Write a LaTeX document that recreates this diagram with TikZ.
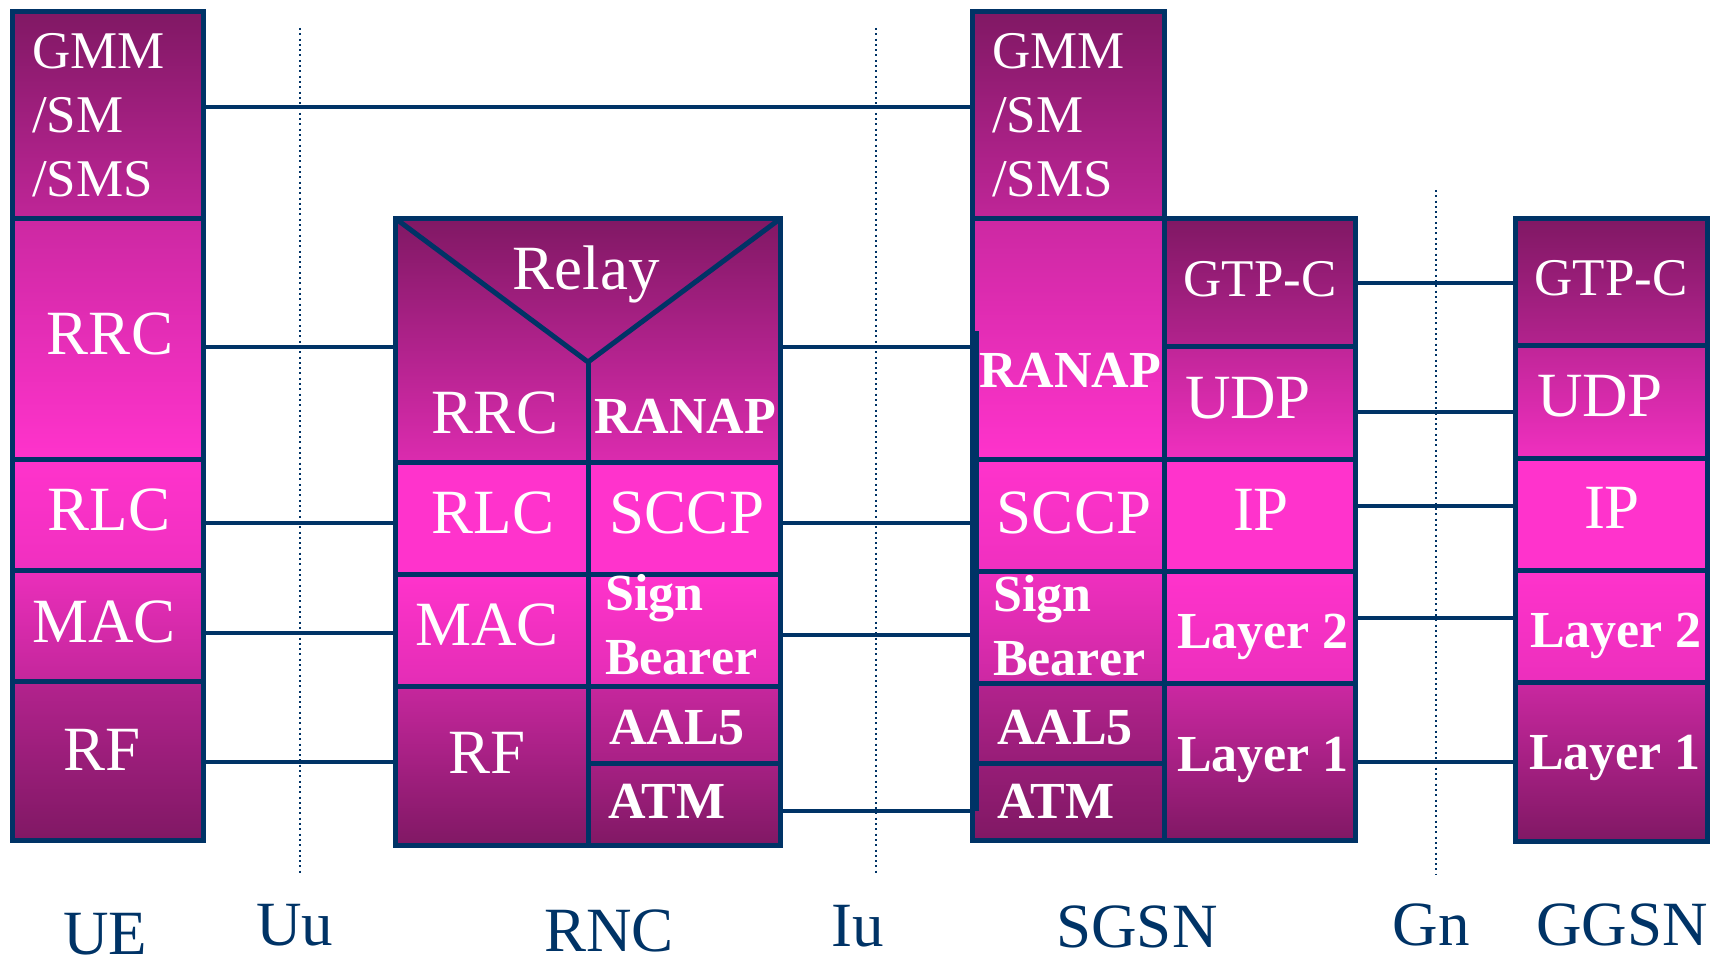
\documentclass[tikz,border=0pt]{standalone}
\usepackage{fontspec}
\setmainfont{Liberation Serif}
\usetikzlibrary{shadings}
\definecolor{navy}{RGB}{0,51,102}
\definecolor{dk}{RGB}{128,24,100}
\definecolor{br}{RGB}{255,51,204}
\newcommand\stackcell[4]{\shade[top color=br!#1!dk, bottom color=br!#2!dk] (#3) rectangle (#4);}
\tikzset{
  cell/.style={draw=navy, line width=5pt},
  link/.style={draw=navy, line width=3.5pt},
  iface/.style={draw=navy, line width=2.5pt, dash pattern=on 2pt off 3.3pt},
  txt/.style={text=white, font=\fontsize{63}{63}\selectfont, inner sep=0pt, anchor=base},
  stxt/.style={text=white, font=\fontsize{53}{53}\selectfont, inner sep=0pt, anchor=base},
  btxt/.style={text=white, font=\fontsize{52}{52}\selectfont\bfseries, inner sep=0pt, anchor=base},
  lbl/.style={text=navy, font=\fontsize{63}{63}\selectfont, inner sep=0pt, anchor=base},
}
\begin{document}
\begin{tikzpicture}[x=1pt,y=-1pt]
\useasboundingbox (0,0) rectangle (1721,965);
% ---------- UE ----------
\stackcell{0}{50}{12.5,11.5}{203.5,219}
\stackcell{60}{100}{12.5,219}{203.5,459}
\stackcell{100}{88}{12.5,459}{203.5,570}
\stackcell{84}{53}{12.5,570}{203.5,681}
\stackcell{40}{0}{12.5,681}{203.5,840.5}
\draw[cell] (12.5,11.5) rectangle (203.5,840.5);
\foreach \y in {219,459,570,681} \draw[cell] (12.5,\y) -- (203.5,\y);
% ---------- RNC ----------
\stackcell{0}{72}{395.5,218.5}{780.5,462}
\stackcell{100}{100}{395.5,462}{780.5,574}
\stackcell{100}{78}{395.5,574}{780.5,686}
\stackcell{55}{0}{395.5,686}{588,845.5}
\stackcell{55}{32}{588,686}{780.5,763}
\stackcell{30}{0}{588,763}{780.5,845.5}
\draw[cell] (395.5,218.5) rectangle (780.5,845.5);
\draw[cell] (395.5,218.5) -- (588,362) -- (780.5,218.5);
\draw[cell] (588,362) -- (588,845.5);
\foreach \y in {462,574,686} \draw[cell] (395.5,\y) -- (780.5,\y);
\draw[cell] (588,763) -- (780.5,763);
% ---------- SGSN ----------
\stackcell{0}{50}{972.5,11.5}{1164.5,218.5}
\stackcell{60}{100}{972.5,218.5}{1164.5,459.5}
\stackcell{100}{88}{972.5,459.5}{1164.5,571}
\stackcell{88}{60}{972.5,571}{1164.5,683}
\stackcell{40}{18}{972.5,683}{1164.5,763}
\stackcell{18}{0}{972.5,763}{1164.5,840.5}
\stackcell{0}{40}{1164.5,218.5}{1355.5,347}
\stackcell{50}{88}{1164.5,347}{1355.5,459.5}
\stackcell{100}{100}{1164.5,459.5}{1355.5,571}
\stackcell{100}{85}{1164.5,571}{1355.5,683}
\stackcell{60}{0}{1164.5,683}{1355.5,840.5}
\draw[cell] (972.5,11.5) rectangle (1164.5,840.5);
\draw[cell] (1164.5,218.5) rectangle (1355.5,840.5);
\foreach \y in {218.5,459.5,571,683,763} \draw[cell] (972.5,\y) -- (1164.5,\y);
\foreach \y in {347,459.5,571,683} \draw[cell] (1164.5,\y) -- (1355.5,\y);
\fill[navy] (970,331) rectangle (979,811);
% ---------- GGSN ----------
\stackcell{0}{40}{1515.5,218.5}{1707.5,346}
\stackcell{50}{88}{1515.5,346}{1707.5,458}
\stackcell{100}{100}{1515.5,458}{1707.5,570}
\stackcell{100}{85}{1515.5,570}{1707.5,682}
\stackcell{58}{0}{1515.5,682}{1707.5,841.5}
\draw[cell] (1515.5,218.5) rectangle (1707.5,841.5);
\foreach \y in {346,458,570,682} \draw[cell] (1515.5,\y) -- (1707.5,\y);
% ---------- links ----------
\draw[link] (206,107) -- (970,107);
\foreach \y in {347,523,633,762} \draw[link] (206,\y) -- (393,\y);
\foreach \y in {347,523,635,811} \draw[link] (783,\y) -- (975,\y);
\foreach \y in {283,412,506,618,762} \draw[link] (1358,\y) -- (1513,\y);
% ---------- interfaces ----------
\draw[iface] (300,28) -- (300,873);
\draw[iface] (876,28) -- (876,875);
\draw[iface] (1436,190) -- (1436,874);
% ---------- UE texts ----------
\node[stxt, anchor=base west] (ue1) at (32,69) {GMM};
\node[stxt, anchor=base west] (ue2) at (32,133) {/SM};
\node[stxt, anchor=base west] (ue3) at (32,197) {/SMS};
\node[txt] (uerrc) at (110,355) {RRC};
\node[txt] (uerlc) at (109,530) {RLC};
\node[txt] (uemac) at (104,642) {MAC};
\node[txt] (uerf) at (102,770) {RF};
% ---------- RNC texts ----------
\node[txt] (relay) at (586,290) {Relay};
\node[txt] (rnrrc) at (495,433) {RRC};
\node[btxt] (rnranap) at (685,433) {RANAP};
\node[txt] (rnrlc) at (493,533) {RLC};
\node[txt] (rnsccp) at (687,533) {SCCP};
\node[txt] (rnmac) at (487,645) {MAC};
\node[btxt, anchor=base west] (rnsign) at (605,610) {Sign};
\node[btxt, anchor=base west] (rnbear) at (605,674) {Bearer};
\node[txt] (rnrf) at (487,773) {RF};
\node[btxt] (rnaal) at (677,744) {AAL5};
\node[btxt, anchor=base west] (rnatm) at (608,818) {ATM};
% ---------- SGSN texts ----------
\node[stxt, anchor=base west] (sg1) at (992,69) {GMM};
\node[stxt, anchor=base west] (sg2) at (992,133) {/SM};
\node[stxt, anchor=base west] (sg3) at (992,197) {/SMS};
\node[stxt] (sggtp) at (1260,297) {GTP-C};
\node[btxt] (sgranap) at (1070,388) {RANAP};
\node[txt] (sgudp) at (1248,418) {UDP};
\node[txt] (sgsccp) at (1074,533) {SCCP};
\node[txt] (sgip) at (1261,530) {IP};
\node[btxt, anchor=base west] (sgsign) at (993,611) {Sign};
\node[btxt, anchor=base west] (sgbear) at (993,675) {Bearer};
\node[btxt] (sgl2) at (1263,648) {Layer 2};
\node[btxt] (sgaal) at (1065,744) {AAL5};
\node[btxt, anchor=base west] (sgatm) at (997,818) {ATM};
\node[btxt] (sgl1) at (1263,771) {Layer 1};
% ---------- GGSN texts ----------
\node[stxt] (gggtp) at (1611,296) {GTP-C};
\node[txt] (ggudp) at (1600,417) {UDP};
\node[txt] (ggip) at (1612,528) {IP};
\node[btxt] (ggl2) at (1616,647) {Layer 2};
\node[btxt] (ggl1) at (1615,769) {Layer 1};
% ---------- labels ----------
\node[lbl] (lue) at (105,954) {UE};
\node[lbl] (luu) at (295,945) {Uu};
\node[lbl] (lrnc) at (609,951) {RNC};
\node[lbl] (liu) at (858,946) {Iu};
\node[lbl] (lsgsn) at (1137,947) {SGSN};
\node[lbl] (lgn) at (1431,945) {Gn};
\node[lbl] (lggsn) at (1622,945) {GGSN};
\end{tikzpicture}
\end{document}
